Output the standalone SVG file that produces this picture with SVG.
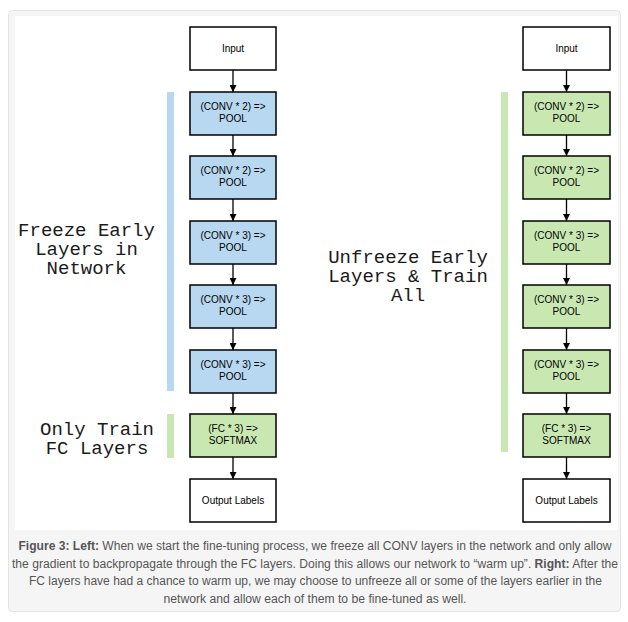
<svg xmlns="http://www.w3.org/2000/svg" width="628" height="622" viewBox="0 0 628 622">
<defs>
<style>
.box{stroke:#000;stroke-width:1.5}
.w{fill:#fff}
.b{fill:#b7d8f0}
.g{fill:#c9e8b1}
.bt{font-family:"Liberation Sans",Arial,sans-serif;font-size:10px;fill:#000;text-anchor:middle}
.lbl{font-family:"Liberation Mono","Courier New",monospace;font-size:19px;fill:#1a1a1a;text-anchor:middle}
.cap{font-family:"Liberation Sans",Arial,sans-serif;font-size:12px;fill:#555;text-anchor:middle}
.cap tspan.k{font-weight:bold}
.con line{stroke:#000;stroke-width:1.3}
</style>
<marker id="ah" viewBox="0 0 10 10" refX="10" refY="5" markerWidth="7" markerHeight="7" markerUnits="userSpaceOnUse" orient="auto">
<path d="M0,0 L10,5 L0,10 z" fill="#000"/>
</marker>
</defs>
<rect x="8.5" y="10.5" width="612" height="601" rx="4" fill="#f5f5f5" stroke="#e3e3e3"/>
<rect x="15" y="16" width="603" height="514" fill="#fff"/>

<!-- bars -->
<rect x="167" y="92" width="7" height="299" fill="#b7d8f0"/>
<rect x="167" y="414" width="7" height="44" fill="#c9e8b1"/>
<rect x="501" y="92" width="7" height="360" fill="#c9e8b1"/>

<!-- labels -->
<text class="lbl" x="86.5" y="236">Freeze Early<tspan x="86.5" dy="19">Layers in</tspan><tspan x="86.5" dy="19">Network</tspan></text>
<text class="lbl" x="97" y="435">Only Train<tspan x="97" dy="18.5">FC Layers</tspan></text>
<text class="lbl" x="408" y="263">Unfreeze Early<tspan x="408" dy="19">Layers &amp; Train</tspan><tspan x="408" dy="19">All</tspan></text>

<!-- connectors -->
<g class="con" id="connectors">
<line x1="233" y1="70" x2="233" y2="92" marker-end="url(#ah)"/>
<line x1="233" y1="135" x2="233" y2="156" marker-end="url(#ah)"/>
<line x1="233" y1="199" x2="233" y2="221" marker-end="url(#ah)"/>
<line x1="233" y1="264" x2="233" y2="285" marker-end="url(#ah)"/>
<line x1="233" y1="328" x2="233" y2="350" marker-end="url(#ah)"/>
<line x1="233" y1="393" x2="233" y2="414" marker-end="url(#ah)"/>
<line x1="233" y1="457" x2="233" y2="479" marker-end="url(#ah)"/>
<line x1="566.5" y1="70" x2="566.5" y2="92" marker-end="url(#ah)"/>
<line x1="566.5" y1="135" x2="566.5" y2="156" marker-end="url(#ah)"/>
<line x1="566.5" y1="199" x2="566.5" y2="221" marker-end="url(#ah)"/>
<line x1="566.5" y1="264" x2="566.5" y2="285" marker-end="url(#ah)"/>
<line x1="566.5" y1="328" x2="566.5" y2="350" marker-end="url(#ah)"/>
<line x1="566.5" y1="393" x2="566.5" y2="414" marker-end="url(#ah)"/>
<line x1="566.5" y1="457" x2="566.5" y2="479" marker-end="url(#ah)"/>
</g>

<!-- left nodes -->
<g id="L-input"><rect class="box w" x="190" y="27" width="86" height="43"/><text class="bt" x="233" y="52">Input</text></g>
<g id="L-conv1"><rect class="box b" x="190" y="92" width="86" height="43"/><text class="bt" x="233" y="110">(CONV * 2) =&gt;<tspan x="233" dy="12">POOL</tspan></text></g>
<g id="L-conv2"><rect class="box b" x="190" y="156" width="86" height="43"/><text class="bt" x="233" y="174">(CONV * 2) =&gt;<tspan x="233" dy="12">POOL</tspan></text></g>
<g id="L-conv3"><rect class="box b" x="190" y="221" width="86" height="43"/><text class="bt" x="233" y="239">(CONV * 3) =&gt;<tspan x="233" dy="12">POOL</tspan></text></g>
<g id="L-conv4"><rect class="box b" x="190" y="285" width="86" height="43"/><text class="bt" x="233" y="303">(CONV * 3) =&gt;<tspan x="233" dy="12">POOL</tspan></text></g>
<g id="L-conv5"><rect class="box b" x="190" y="350" width="86" height="43"/><text class="bt" x="233" y="368">(CONV * 3) =&gt;<tspan x="233" dy="12">POOL</tspan></text></g>
<g id="L-fc"><rect class="box g" x="190" y="414" width="86" height="43"/><text class="bt" x="233" y="432">(FC * 3) =&gt;<tspan x="233" dy="12">SOFTMAX</tspan></text></g>
<g id="L-out"><rect class="box w" x="190" y="479" width="86" height="43"/><text class="bt" x="233" y="504">Output Labels</text></g>

<!-- right nodes -->
<g id="R-input"><rect class="box w" x="523" y="27" width="87" height="43"/><text class="bt" x="566.5" y="52">Input</text></g>
<g id="R-conv1"><rect class="box g" x="523" y="92" width="87" height="43"/><text class="bt" x="566.5" y="110">(CONV * 2) =&gt;<tspan x="566.5" dy="12">POOL</tspan></text></g>
<g id="R-conv2"><rect class="box g" x="523" y="156" width="87" height="43"/><text class="bt" x="566.5" y="174">(CONV * 2) =&gt;<tspan x="566.5" dy="12">POOL</tspan></text></g>
<g id="R-conv3"><rect class="box g" x="523" y="221" width="87" height="43"/><text class="bt" x="566.5" y="239">(CONV * 3) =&gt;<tspan x="566.5" dy="12">POOL</tspan></text></g>
<g id="R-conv4"><rect class="box g" x="523" y="285" width="87" height="43"/><text class="bt" x="566.5" y="303">(CONV * 3) =&gt;<tspan x="566.5" dy="12">POOL</tspan></text></g>
<g id="R-conv5"><rect class="box g" x="523" y="350" width="87" height="43"/><text class="bt" x="566.5" y="368">(CONV * 3) =&gt;<tspan x="566.5" dy="12">POOL</tspan></text></g>
<g id="R-fc"><rect class="box g" x="523" y="414" width="87" height="43"/><text class="bt" x="566.5" y="432">(FC * 3) =&gt;<tspan x="566.5" dy="12">SOFTMAX</tspan></text></g>
<g id="R-out"><rect class="box w" x="523" y="479" width="87" height="43"/><text class="bt" x="566.5" y="504">Output Labels</text></g>

<!-- caption -->
<text class="cap" x="315" y="550" textLength="593" lengthAdjust="spacingAndGlyphs"><tspan class="k">Figure 3: Left:</tspan> When we start the fine-tuning process, we freeze all CONV layers in the network and only allow</text>
<text class="cap" x="315" y="567.5" textLength="606" lengthAdjust="spacingAndGlyphs">the gradient to backpropagate through the FC layers. Doing this allows our network to “warm up”. <tspan class="k">Right:</tspan> After the</text>
<text class="cap" x="315.5" y="585" textLength="573" lengthAdjust="spacingAndGlyphs">FC layers have had a chance to warm up, we may choose to unfreeze all or some of the layers earlier in the</text>
<text class="cap" x="315" y="602.5" textLength="303" lengthAdjust="spacingAndGlyphs">network and allow each of them to be fine-tuned as well.</text>
</svg>
